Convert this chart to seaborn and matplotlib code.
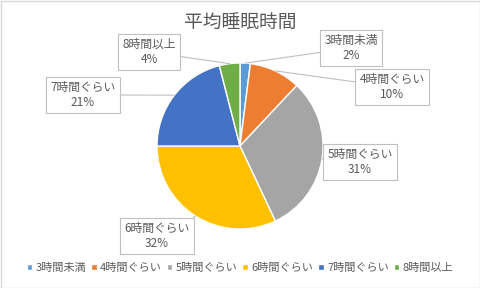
import numpy as np
import matplotlib
matplotlib.use("Agg")
import matplotlib.pyplot as plt
import seaborn as sns
from matplotlib.patches import Rectangle

sns.set_theme(style="white")
plt.rcParams['font.family'] = ['Noto Sans CJK JP', 'DejaVu Sans']

title = "平均睡眠時間"
categories = ["3時間未満", "4時間ぐらい", "5時間ぐらい", "6時間ぐらい", "7時間ぐらい", "8時間以上"]
values = [2, 10, 31, 32, 21, 4]
colors = ["#5B9BD5", "#ED7D31", "#A5A5A5", "#FFC000", "#4472C4", "#70AD47"]
# label box centres in figure pixels (layout)
label_pos = [(351, 240), (392, 201), (360, 126), (157, 52), (83, 193), (149, 236)]

W, H = 480, 288
fig = plt.figure(figsize=(W / 100, H / 100), dpi=100)
fig.patches.append(Rectangle((0.5 / W, 0.5 / H), 1 - 1 / W, 1 - 1 / H, transform=fig.transFigure,
                             fill=False, edgecolor="#D9D9D9", linewidth=1))

cx, cy, r = 240, 288 - 146, 83
ax = fig.add_axes([(cx - r) / W, (cy - r) / H, 2 * r / W, 2 * r / H])
wedges, _ = ax.pie(values, colors=colors, startangle=90, counterclock=False,
                   radius=1, wedgeprops=dict(edgecolor="white", linewidth=1))
ax.set_xlim(-1, 1)
ax.set_ylim(-1, 1)
ax.set_aspect("equal")
ax.axis("off")

total = sum(values)
cum = np.cumsum([0] + values)
text_color = "#595959"
for i, (cat, v) in enumerate(zip(categories, values)):
    mid = 90 - 360 * (cum[i] + v / 2) / total
    th = np.deg2rad(mid)
    px, py = np.cos(th), np.sin(th)
    ax.annotate(f"{cat}\n{v}%", xy=(px, py), xycoords="data",
                xytext=label_pos[i], textcoords="figure pixels",
                ha="center", va="center", fontsize=8.5, color=text_color,
                linespacing=1.25, annotation_clip=False,
                bbox=dict(boxstyle="square,pad=0.35", facecolor="white", edgecolor="#BFBFBF", linewidth=0.8),
                arrowprops=dict(arrowstyle="-", color="#BFBFBF", linewidth=0.8, shrinkA=0, shrinkB=0))

fig.text(0.5, 1 - 22 / H, title, ha="center", va="center", fontsize=13.5, color=text_color)

leg = fig.legend(wedges, categories, loc="center", bbox_to_anchor=(0.5, 1 - 268 / H), ncol=6,
                 frameon=False, fontsize=8, handlelength=0.5, handleheight=0.5, handletextpad=0.3,
                 columnspacing=0.45, labelcolor=text_color)

fig.savefig("out.png", dpi=100)
